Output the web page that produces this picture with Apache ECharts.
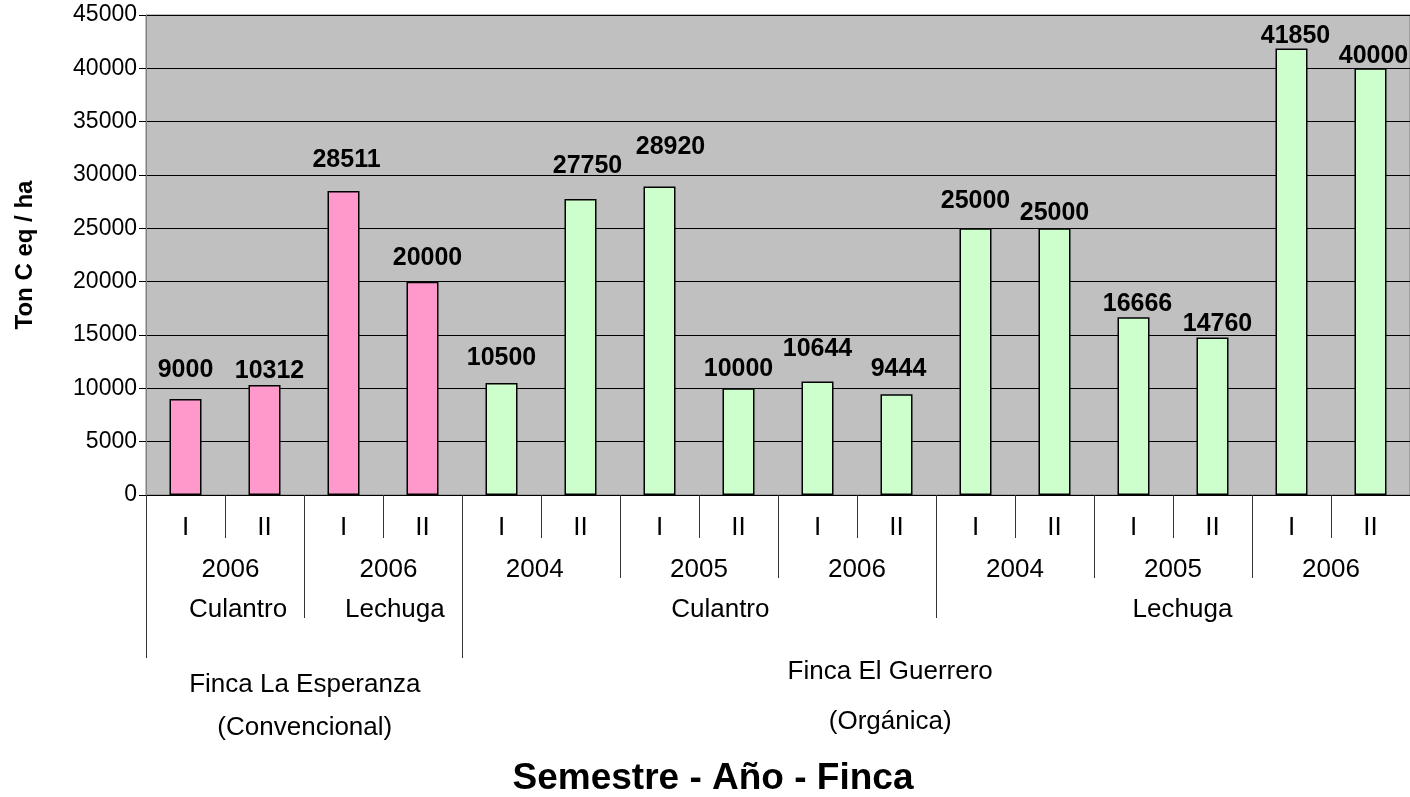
<!DOCTYPE html>
<html>
<head>
<meta charset="utf-8">
<script src="https://cdn.jsdelivr.net/npm/echarts@6/dist/echarts.min.js"></script>
<style>
  html, body { margin: 0; padding: 0; background: #fff; }
  #chart { width: 1410px; height: 797px; }
</style>
</head>
<body>
<div id="chart"></div>
<script>
// data
const semesters = ["I", "II", "I", "II", "I", "II", "I", "II", "I", "II", "I", "II", "I", "II", "I", "II"];
const values = [9000, 10312, 28511, 20000, 10500, 27750, 28920, 10000, 10644, 9444, 25000, 25000, 16666, 14760, 41850, 40000];
const years = ["2006", "2006", "2004", "2005", "2006", "2004", "2005", "2006"];
const crops = ["Culantro", "Lechuga", "Culantro", "Lechuga"];
const cropSpans = [2, 2, 6, 6];
const farms = ["Finca La Esperanza", "Finca El Guerrero"];
const farmTypes = ["(Convencional)", "(Orgánica)"];
const farmSpans = [4, 12];

// look
const FONT = "Liberation Sans, Arial, sans-serif";
const PINK = "#FF99CC";
const GREEN = "#CCFFCC";
const labelGap = [16, 1, 18, 11, 12, 20, 27, 7, 20, 13, 15, 3, 1, 1, 0, 0];
const labelDx = [0, 5, 3, 5, 0, 7, 11, 0, 0, 2, 0, 0, 4, 5, 4, 3];
const yearPos = [1.07, 3.07, 4.92, 7, 9, 11, 13, 15];
const cropPos = [1.165, 3.15, 7.27, 13.12];
const farmPos = [2.01, 9.42];

function cumul(spans) {
  const out = [0];
  spans.forEach(s => out.push(out[out.length - 1] + s));
  return out;
}
const yearBounds = cumul(years.map(() => 2));
const cropBounds = cumul(cropSpans);
const farmBounds = cumul(farmSpans);

function nearest(arr, v) {
  let best = 0;
  arr.forEach((a, i) => { if (Math.abs(a - v) < Math.abs(arr[best] - v)) best = i; });
  return best;
}

function levelAxis(bounds, tickLen, pos, texts, margin, lineHeight) {
  return {
    type: "value",
    position: "bottom",
    min: 0,
    max: semesters.length,
    axisLine: { show: false },
    splitLine: { show: false },
    axisTick: {
      show: bounds.length > 0,
      customValues: bounds,
      length: tickLen,
      lineStyle: { color: "#333", width: 1 }
    },
    axisLabel: {
      show: true,
      customValues: pos,
      formatter: v => texts[nearest(pos, v)],
      margin: margin,
      verticalAlign: "middle",
      color: "#000",
      fontSize: 26,
      fontFamily: FONT,
      lineHeight: lineHeight || 30
    }
  };
}

const chart = echarts.init(document.getElementById("chart"));
const option = {
  animation: false,
  grid: {
    left: 146, right: 0, top: 15, bottom: 302,
    containLabel: false,
    outerBoundsMode: "none",
    show: true,
    backgroundColor: "#C0C0C0",
    borderColor: "#808080",
    borderWidth: 1
  },
  xAxis: [
    {
      type: "category",
      data: semesters,
      position: "bottom",
      axisLine: { show: true, lineStyle: { color: "#000", width: 1 } },
      axisTick: { show: true, interval: 0, length: 43, lineStyle: { color: "#333" } },
      axisLabel: {
        interval: 0, margin: 33, verticalAlign: "middle",
        color: "#000", fontSize: 26, fontFamily: FONT
      }
    },
    levelAxis(yearBounds, 83, yearPos, years, 75),
    levelAxis(cropBounds, 123, cropPos, crops, 115),
    levelAxis(farmBounds, 163, [farmPos[0]], [farms[0] + "\n" + farmTypes[0]], 211.5, 43),
    levelAxis([], 0, [farmPos[1]], [farms[1] + "\n" + farmTypes[1]], 202, 50)
  ],
  yAxis: {
    type: "value",
    min: 0,
    max: 45000,
    interval: 5000,
    name: "Ton C eq / ha",
    nameLocation: "middle",
    nameGap: 109,
    nameRotate: 90,
    nameTextStyle: { fontSize: 24, fontWeight: "bold", color: "#000", fontFamily: FONT },
    axisLine: { show: true, lineStyle: { color: "#808080" } },
    axisTick: { show: true, length: 7, lineStyle: { color: "#000" } },
    axisLabel: { margin: 9, fontSize: 23, color: "#000", fontFamily: FONT, formatter: v => String(v) },
    splitLine: { show: true, lineStyle: { color: "#000", width: 1 } }
  },
  graphic: [
    {
      type: "text",
      x: 713,
      y: 779,
      style: {
        text: "Semestre - Año - Finca",
        fill: "#000",
        font: "bold 37px " + FONT,
        textAlign: "center",
        textVerticalAlign: "middle"
      }
    }
  ],
  series: [
    {
      type: "bar",
      xAxisIndex: 0,
      barWidth: 32,
      data: values.map((v, i) => ({
        value: v,
        itemStyle: { color: i < farmSpans[0] ? PINK : GREEN },
        label: { distance: labelGap[i], offset: [labelDx[i], 0] }
      })),
      itemStyle: { borderColor: "#000", borderWidth: 1.5 },
      label: {
        show: true,
        position: "top",
        color: "#000",
        fontSize: 25,
        fontWeight: "bold",
        fontFamily: FONT
      }
    }
  ]
};
chart.setOption(option);
</script>
</body>
</html>
